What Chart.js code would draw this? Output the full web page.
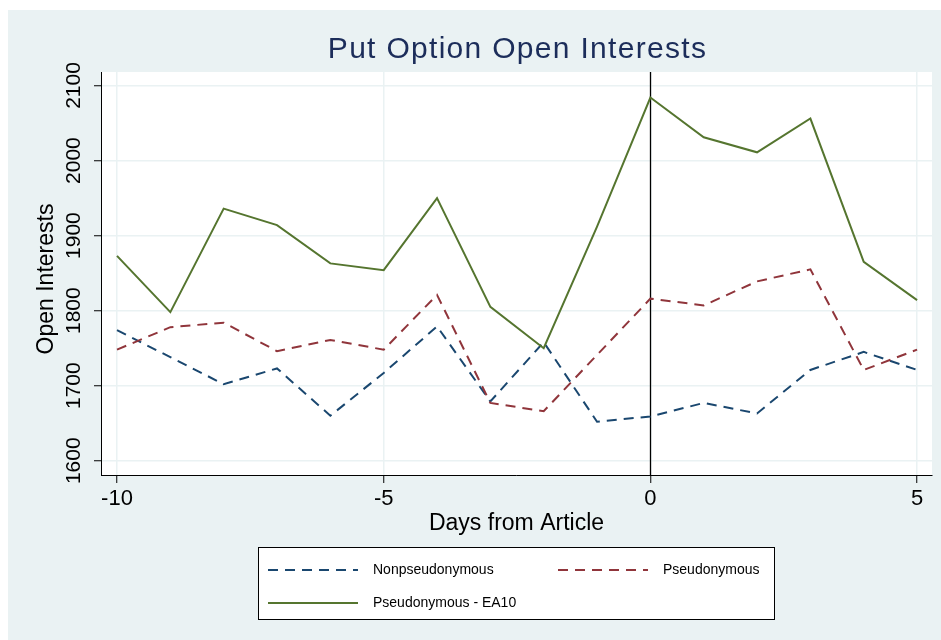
<!DOCTYPE html>
<html lang="en">
<head>
<meta charset="UTF-8">
<title>Put Option Open Interests</title>
<script src="https://cdn.jsdelivr.net/npm/chart.js"></script>
<style>
    body { margin: 0; background: #ffffff; }
    canvas { display: block; }
</style>
</head>
<body>
<canvas id="oiChart" width="941" height="640"></canvas>
<script>
    // values
    const days = [-10, -9, -8, -7, -6, -5, -4, -3, -2, -1, 0, 1, 2, 3, 4, 5];
    const nonPseudo  = [1774, 1738, 1702, 1723, 1660, 1717, 1779, 1679, 1758, 1652, 1659, 1677, 1663, 1721, 1745, 1721];
    const pseudo     = [1748, 1778, 1784, 1746, 1761, 1748, 1821, 1677, 1666, 1741, 1816, 1807, 1839, 1855, 1721, 1748];
    const pseudoEA10 = [1873, 1798, 1936, 1914, 1863, 1854, 1950, 1805, 1750, 1912, 2084, 2031, 2011, 2056, 1865, 1814];
    const seriesNames = ['Nonpseudonymous', 'Pseudonymous', 'Pseudonymous - EA10'];
    const xTicks = [-10, -5, 0, 5];
    const yTicks = [1600, 1700, 1800, 1900, 2000, 2100];

    const FONT = "Arial, 'Liberation Sans', sans-serif";
    const BG = '#eaf2f3';

    function toPoints(vals) {
        return days.map((d, i) => ({ x: d, y: vals[i] }));
    }

    const stataBackground = {
        id: 'stataBackground',
        beforeDraw(chart) {
            const { ctx, chartArea: a, width, height } = chart;
            ctx.save();
            ctx.fillStyle = '#ffffff';
            ctx.fillRect(0, 0, width, height);
            ctx.fillStyle = BG;
            ctx.fillRect(8, 10, width - 8, height - 10);
            ctx.fillStyle = '#ffffff';
            ctx.fillRect(a.left, a.top, a.right - a.left, a.bottom - a.top);
            ctx.restore();
        }
    };

    const zeroLine = {
        id: 'zeroLine',
        beforeDatasetsDraw(chart) {
            const { ctx, chartArea: a } = chart;
            const x = Math.round(chart.scales.x.getPixelForValue(0)) + 0.5;
            ctx.save();
            ctx.strokeStyle = '#000000';
            ctx.lineWidth = 1.3;
            ctx.beginPath();
            ctx.moveTo(x, a.top);
            ctx.lineTo(x, a.bottom);
            ctx.stroke();
            ctx.restore();
        }
    };

    const labels = {
        id: 'labels',
        afterDraw(chart) {
            const { ctx, chartArea: a } = chart;
            const ys = chart.scales.y;
            ctx.save();

            // title
            ctx.fillStyle = '#1c2d5a';
            ctx.font = '30px ' + FONT;
            ctx.letterSpacing = '1.3px';
            ctx.textAlign = 'center';
            ctx.textBaseline = 'middle';
            ctx.fillText('Put Option Open Interests', (a.left + a.right) / 2 + 1, 50);
            ctx.letterSpacing = '0px';

            // y tick labels, rotated like Stata
            ctx.fillStyle = '#000000';
            ctx.font = '21px ' + FONT;
            ys.ticks.forEach(t => {
                ctx.save();
                ctx.translate(73, ys.getPixelForValue(t.value));
                ctx.rotate(-Math.PI / 2);
                ctx.fillText(String(t.value), 0, 1);
                ctx.restore();
            });

            // axis titles
            ctx.font = '23px ' + FONT;
            ctx.save();
            ctx.translate(47, 279);
            ctx.rotate(-Math.PI / 2);
            ctx.fillText('Open Interests', 0, 0);
            ctx.restore();
            ctx.fillText('Days from Article', (a.left + a.right) / 2, 524);

            // legend box
            const box = { x: 258, y: 547, w: 516, h: 72 };
            ctx.fillStyle = '#ffffff';
            ctx.fillRect(box.x, box.y, box.w, box.h);
            ctx.strokeStyle = '#000000';
            ctx.lineWidth = 1;
            ctx.strokeRect(box.x + 0.5, box.y + 0.5, box.w, box.h);

            const slots = [
                { x: 268, y: 570 },
                { x: 558, y: 570 },
                { x: 268, y: 603 }
            ];
            ctx.font = '14px ' + FONT;
            ctx.textAlign = 'left';
            chart.data.datasets.forEach((ds, i) => {
                const s = slots[i];
                ctx.strokeStyle = ds.borderColor;
                ctx.lineWidth = ds.borderWidth;
                ctx.setLineDash(ds.borderDash || []);
                ctx.beginPath();
                ctx.moveTo(s.x, s.y);
                ctx.lineTo(s.x + 90, s.y);
                ctx.stroke();
                ctx.setLineDash([]);
                ctx.fillStyle = '#000000';
                ctx.fillText(ds.label, s.x + 105, s.y);
            });
            ctx.restore();
        }
    };

    const ctx = document.getElementById('oiChart').getContext('2d');
    const oiChart = new Chart(ctx, {
        type: 'line',
        data: {
            datasets: [
                { label: seriesNames[0], data: toPoints(nonPseudo), borderColor: '#1a476f', borderWidth: 2, borderDash: [10, 7], order: 3 },
                { label: seriesNames[1], data: toPoints(pseudo), borderColor: '#90353b', borderWidth: 2, borderDash: [10, 7], order: 2 },
                { label: seriesNames[2], data: toPoints(pseudoEA10), borderColor: '#55752f', borderWidth: 2, order: 1 }
            ]
        },
        options: {
            responsive: false,
            animation: false,
            layout: { padding: { top: 72, right: 9, bottom: 125, left: 0 } },
            elements: { point: { radius: 0 }, line: { tension: 0, fill: false } },
            plugins: {
                legend: { display: false },
                title: { display: false },
                tooltip: { enabled: false }
            },
            scales: {
                x: {
                    type: 'linear',
                    min: -10.3,
                    max: 5.28,
                    afterBuildTicks: s => { s.ticks = xTicks.map(v => ({ value: v })); },
                    afterFit: s => { s.height = 40; },
                    grid: { color: BG, lineWidth: 1.5, tickColor: '#000000', tickWidth: 1, tickLength: 8 },
                    border: { color: '#000000', width: 1 },
                    ticks: {
                        color: '#000000',
                        font: { family: FONT, size: 22 },
                        padding: 3,
                        maxRotation: 0,
                        callback: v => String(v)
                    }
                },
                y: {
                    min: 1581,
                    max: 2118,
                    afterBuildTicks: s => { s.ticks = yTicks.map(v => ({ value: v })); },
                    afterFit: s => { s.width = 101; },
                    grid: { color: BG, lineWidth: 1.5, tickColor: '#000000', tickWidth: 1, tickLength: 7 },
                    border: { color: '#000000', width: 1 },
                    ticks: { display: false }
                }
            }
        },
        plugins: [stataBackground, zeroLine, labels]
    });
</script>
</body>
</html>
